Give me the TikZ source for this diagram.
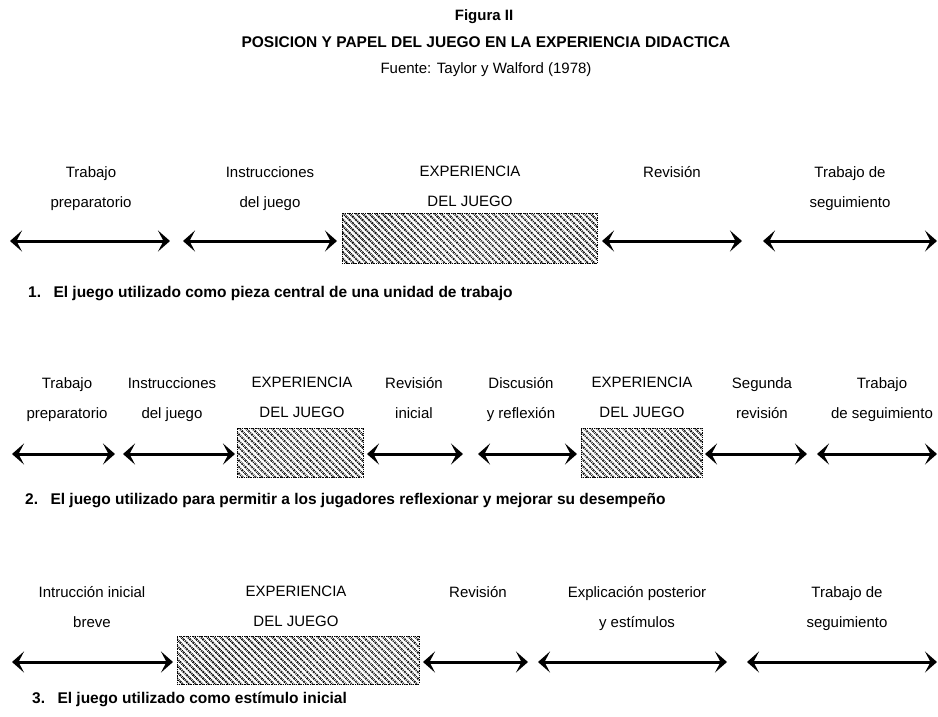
\documentclass[tikz,border=0pt]{standalone}
\usepackage{fontspec}
\setmainfont{Liberation Sans}
\usetikzlibrary{arrows.meta,patterns.meta}

\begin{document}
\begin{tikzpicture}[x=1pt,y=-1pt,
    every node/.style={inner sep=0pt},
    lbl/.style={font=\fontsize{15}{30}\selectfont, align=center, anchor=north},
    leyenda/.style={font=\fontsize{15.5}{18}\selectfont\bfseries, anchor=base west},
    juego/.style={pattern={Lines[angle=-45,distance=4.6pt,line width=2.1pt]},
      draw, densely dotted, line width=0.8pt},
    punta/.tip={Stealth[length=12pt,width=21pt,inset=5.5pt]},
    arr/.style={punta-punta, line width=3pt}
  ]
  \useasboundingbox (0,0) rectangle (938,716);

  % titulo
  \node[font=\fontsize{15}{18}\selectfont\bfseries] (fig) at (484,17) {Figura II};
  \node[font=\fontsize{15.5}{18}\selectfont\bfseries] (tit) at (486,42)
    {POSICION Y PAPEL DEL JUEGO EN LA EXPERIENCIA DIDACTICA};
  \node[font=\fontsize{15}{18}\selectfont] (src) at (486,70) {Fuente: Taylor y Walford (1978)};

  % 1. pieza central
  \node[lbl] (prep1) at (91,166) {Trabajo\\preparatorio};
  \node[lbl] (instr1) at (270,166) {Instrucciones\\del juego};
  \node[lbl] (exp1) at (470,166) {EXPERIENCIA\\DEL JUEGO};
  \node[lbl] (rev1) at (672,166) {Revisión};
  \node[lbl] (seg1) at (850,166) {Trabajo de\\seguimiento};
  \node[juego, minimum width=255pt, minimum height=50pt] (box1) at (469.5,238) {};
  \coordinate (p1a) at (10,241);  \coordinate (p1b) at (170,241);
  \coordinate (i1a) at (183,241); \coordinate (i1b) at (337,241);
  \coordinate (r1a) at (602,241); \coordinate (r1b) at (742,241);
  \coordinate (s1a) at (763,241); \coordinate (s1b) at (937,241);
  \draw[arr] (p1a) -- (p1b);
  \draw[arr] (i1a) -- (i1b);
  \draw[arr] (r1a) -- (r1b);
  \draw[arr] (s1a) -- (s1b);
  \node[leyenda] (ley1) at (28,297)
    {1.\hspace{0.8em}El juego utilizado como pieza central de una unidad de trabajo};

  % 2. reflexionar y mejorar
  \node[lbl] (prep2) at (67,377) {Trabajo\\preparatorio};
  \node[lbl] (instr2) at (172,377) {Instrucciones\\del juego};
  \node[lbl] (exp2a) at (302,377) {EXPERIENCIA\\DEL JUEGO};
  \node[lbl] (rev2) at (414,377) {Revisión\\inicial};
  \node[lbl] (disc2) at (521,377) {Discusión\\y reflexión};
  \node[lbl] (exp2b) at (642,377) {EXPERIENCIA\\DEL JUEGO};
  \node[lbl] (segu2) at (762,377) {Segunda\\revisión};
  \node[lbl] (seg2) at (882,377) {Trabajo\\de seguimiento};
  \node[juego, minimum width=126pt, minimum height=49pt] (box2a) at (300,452.5) {};
  \node[juego, minimum width=121pt, minimum height=49pt] (box2b) at (641.5,452.5) {};
  \coordinate (p2a) at (12,454);  \coordinate (p2b) at (115,454);
  \coordinate (i2a) at (123,454); \coordinate (i2b) at (235,454);
  \coordinate (r2a) at (367,454); \coordinate (r2b) at (463,454);
  \coordinate (d2a) at (478,454); \coordinate (d2b) at (577,454);
  \coordinate (u2a) at (705,454); \coordinate (u2b) at (807,454);
  \coordinate (s2a) at (817,454); \coordinate (s2b) at (937,454);
  \draw[arr] (p2a) -- (p2b);
  \draw[arr] (i2a) -- (i2b);
  \draw[arr] (r2a) -- (r2b);
  \draw[arr] (d2a) -- (d2b);
  \draw[arr] (u2a) -- (u2b);
  \draw[arr] (s2a) -- (s2b);
  \node[leyenda] (ley2) at (25,504)
    {2.\hspace{0.8em}El juego utilizado para permitir a los jugadores reflexionar y mejorar su desempeño};

  % 3. estimulo inicial
  \node[lbl] (intr3) at (92,586) {Intrucción inicial\\breve};
  \node[lbl] (exp3) at (296,586) {EXPERIENCIA\\DEL JUEGO};
  \node[lbl] (rev3) at (478,586) {Revisión};
  \node[lbl] (expl3) at (637,586) {Explicación posterior\\y estímulos};
  \node[lbl] (seg3) at (847,586) {Trabajo de\\seguimiento};
  \node[juego, minimum width=242pt, minimum height=48pt] (box3) at (298,660) {};
  \coordinate (n3a) at (12,662);  \coordinate (n3b) at (173,662);
  \coordinate (r3a) at (423,662); \coordinate (r3b) at (528,662);
  \coordinate (e3a) at (538,662); \coordinate (e3b) at (727,662);
  \coordinate (s3a) at (747,662); \coordinate (s3b) at (937,662);
  \draw[arr] (n3a) -- (n3b);
  \draw[arr] (r3a) -- (r3b);
  \draw[arr] (e3a) -- (e3b);
  \draw[arr] (s3a) -- (s3b);
  \node[leyenda] (ley3) at (32,703) {3.\hspace{0.8em}El juego utilizado como estímulo inicial};
\end{tikzpicture}
\end{document}
